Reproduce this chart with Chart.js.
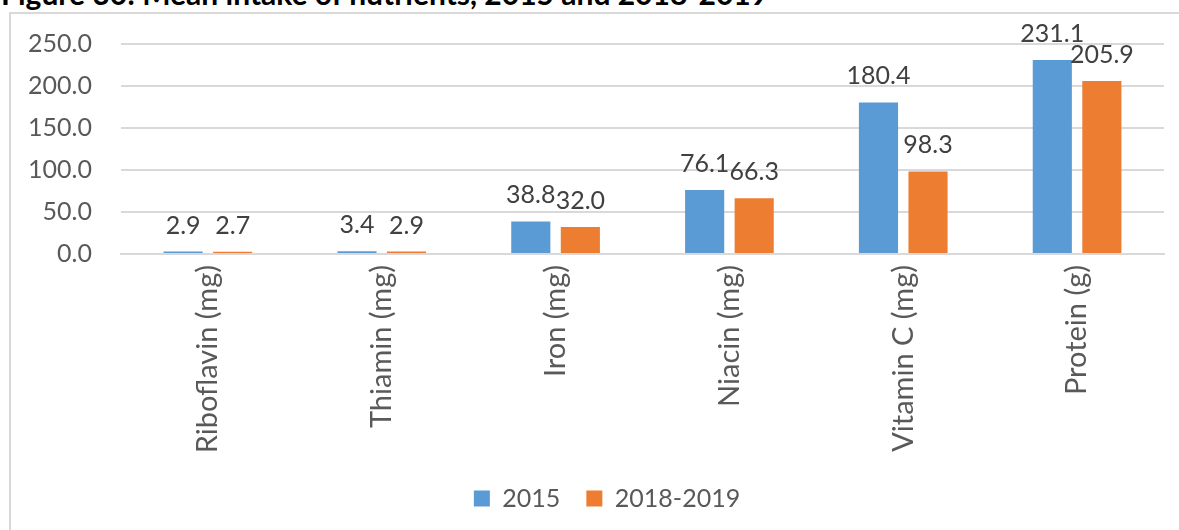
<!DOCTYPE html>
<html>
<head>
<meta charset="utf-8">
<script src="https://cdn.jsdelivr.net/npm/chart.js@4/dist/chart.umd.min.js"></script>
<style>
  html, body { margin: 0; padding: 0; background: #fff; overflow: hidden; }
  #wrap { position: relative; width: 1179px; height: 530px; overflow: hidden; }
  #title {
    position: absolute; left: 1px; top: -21px; white-space: nowrap;
    font: bold 30px Lato, sans-serif; color: #000; line-height: 29px;
  }
  #frame {
    position: absolute; left: 9px; top: 12px; width: 1300px; height: 600px;
    border-left: 2px solid #d9d9d9; border-top: 2px solid #d9d9d9;
  }
  #chart { position: absolute; left: 0; top: 0; }
</style>
</head>
<body>
<div id="wrap">
  <div id="title">Figure 30: Mean intake of nutrients, 2015 and 2018-2019</div>
  <div id="frame"></div>
  <canvas id="chart" width="1179" height="530"></canvas>
</div>
<script>
  const categories = ['Riboflavin (mg)', 'Thiamin (mg)', 'Iron (mg)', 'Niacin (mg)', 'Vitamin C (mg)', 'Protein (g)'];
  const series2015 = [2.9, 3.4, 38.8, 76.1, 180.4, 231.1];
  const series2018 = [2.7, 2.9, 32.0, 66.3, 98.3, 205.9];
  const seriesNames = ['2015', '2018-2019'];
  const yTicks = [0, 50, 100, 150, 200, 250];

  const FONT = 'Lato, sans-serif';
  const GRID = '#d9d9d9';
  const TXT = '#595959';

  // draws the value above every bar, like excel's data labels
  const barLabels = {
    id: 'barLabels',
    afterDatasetsDraw(chart) {
      const ctx = chart.ctx;
      ctx.save();
      ctx.font = '25px ' + FONT;
      ctx.fillStyle = '#404040';
      ctx.textAlign = 'center';
      ctx.textBaseline = 'alphabetic';
      chart.data.datasets.forEach((ds, i) => {
        chart.getDatasetMeta(i).data.forEach((bar, j) => {
          ctx.fillText(ds.data[j].toFixed(1), bar.x, bar.y - 18);
        });
      });
      ctx.restore();
    }
  };

  // the original frame runs past the right edge, so its legend sits a bit right of centre
  const legendShift = {
    id: 'legendShift',
    afterLayout(chart) {
      chart.legend.left += 25;
      chart.legend.right += 25;
    }
  };

  new Chart(document.getElementById('chart'), {
    type: 'bar',
    data: {
      labels: categories,
      datasets: [
        { label: seriesNames[0], data: series2015, backgroundColor: '#5b9bd5' },
        { label: seriesNames[1], data: series2018, backgroundColor: '#ed7d31' }
      ]
    },
    options: {
      responsive: false,
      animation: false,
      categoryPercentage: 0.57,
      barPercentage: 0.79,
      layout: { padding: { top: 43, right: 15, left: 0, bottom: 9 } },
      scales: {
        y: {
          min: 0, max: 250,
          afterBuildTicks: (s) => { s.ticks = yTicks.map((v) => ({ value: v })); },
          afterFit: (s) => { s.width = 121; },
          border: { display: false },
          grid: { color: GRID, lineWidth: 2, drawTicks: false },
          ticks: {
            padding: 29, color: TXT, font: { family: FONT, size: 25 },
            callback: (v) => Number(v).toFixed(1)
          }
        },
        x: {
          afterFit: (s) => { s.height = 206; },
          border: { display: true, color: GRID, width: 2 },
          grid: { display: false },
          ticks: {
            minRotation: 90, maxRotation: 90, padding: 3,
            color: TXT, font: { family: FONT, size: 29 }
          }
        }
      },
      plugins: {
        tooltip: { enabled: false },
        legend: {
          position: 'bottom',
          labels: {
            boxWidth: 16, boxHeight: 16, padding: 26,
            color: TXT, font: { family: FONT, size: 25 }
          }
        }
      }
    },
    plugins: [barLabels, legendShift]
  });
</script>
</body>
</html>
